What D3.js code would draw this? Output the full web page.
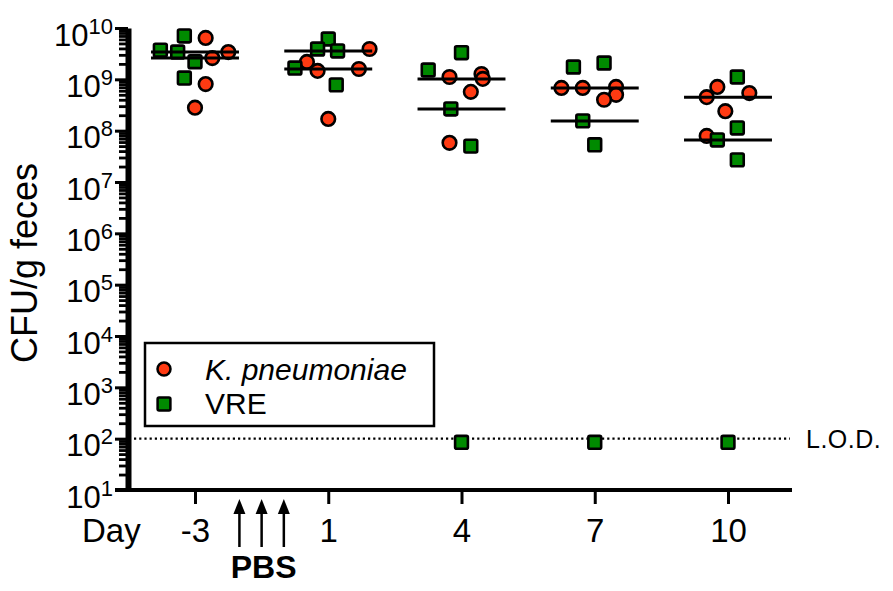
<!DOCTYPE html>
<html>

<head>
  <title>CFU per gram feces</title>
  <script src="https://cdn.jsdelivr.net/npm/d3@7"></script>
  <style>
    body {
      margin: 0;
      background-color: #ffffff;
      font-family: "Liberation Sans", Arial, Helvetica, sans-serif;
    }

    text {
      fill: #000;
    }
  </style>
</head>

<body>
  <div id="chart"></div>
  <script>
    // days on the x axis (categorical, evenly spaced)
    const days = ["-3", "1", "4", "7", "10"];

    // K. pneumoniae CFU/g, one array per day
    const kpValues = [
      [6.4e9, 3.4e9, 2.6e9, 8.1e8, 2.8e8],
      [3.9e9, 2.18e9, 1.59e9, 1.46e9, 1.69e8],
      [1.27e9, 1.11e9, 1.02e9, 5.7e8, 5.8e7],
      [7.1e8, 6.8e8, 6.8e8, 5.0e8, 4.0e8],
      [7.1e8, 5.4e8, 4.5e8, 2.4e8, 7.9e7]
    ];
    // horizontal scatter of each point, as a fraction of the day spacing
    const kpJitter = [
      [0.08, 0.25, 0.13, 0.08, 0],
      [0.31, -0.16, 0.23, -0.08, 0],
      [0.15, -0.09, 0.16, 0.07, -0.09],
      [0.16, -0.25, -0.09, 0.16, 0.07],
      [-0.08, 0.16, -0.16, -0.02, -0.16]
    ];

    // VRE CFU/g, one array per day (85 = below detection)
    const vreValues = [
      [7.0e9, 3.7e9, 3.4e9, 2.2e9, 1.06e9],
      [6.1e9, 3.9e9, 3.57e9, 1.66e9, 7.8e8],
      [3.3e9, 1.52e9, 2.65e8, 5.0e7, 85],
      [2.08e9, 1.74e9, 1.55e8, 5.3e7, 85],
      [1.11e9, 1.13e8, 6.6e7, 2.7e7, 85]
    ];
    const vreJitter = [
      [-0.08, -0.26, -0.13, 0, -0.08],
      [0, -0.08, 0.07, -0.25, 0.06],
      [0, -0.25, -0.08, 0.07, 0],
      [0.07, -0.16, -0.09, 0, 0],
      [0.07, 0.07, -0.08, 0.07, 0]
    ];

    const lod = 100;
    const decades = d3.range(1, 11);
    // PBS doses, as fractions of the way from day -3 to day 1
    const pbsDoses = [1 / 3, 1 / 2, 2 / 3];

    const width = 893;
    const height = 591;
    const red = "#ff3a12";
    const green = "#008a00";

    const svg = d3.select("#chart").append("svg")
      .attr("width", width)
      .attr("height", height);

    const x = d3.scalePoint().domain(days).range([195, 728]);
    const y = d3.scaleLog().domain([10, 1e10]).range([490, 28]);
    const step = x.step();
    const axisX = 128;

    // y axis: minor ticks, then major ticks
    const minor = [];
    decades.slice(0, -1).forEach(e => {
      for (let k = 2; k <= 9; k++) minor.push(k * 10 ** e);
    });

    svg.append("g")
      .attr("transform", `translate(${axisX},0)`)
      .call(d3.axisLeft(y).tickValues(minor).tickSize(9).tickSizeOuter(0).tickFormat(""))
      .call(g => g.select(".domain").remove())
      .call(g => g.selectAll(".tick line").attr("stroke-width", 2.8));

    const yAxis = svg.append("g")
      .attr("transform", `translate(${axisX},0)`)
      .call(d3.axisLeft(y).tickValues(decades.map(e => 10 ** e)).tickSize(13).tickSizeOuter(0).tickFormat(""))
      .call(g => g.select(".domain").attr("stroke-width", 6))
      .call(g => g.selectAll(".tick line").attr("stroke-width", 3));

    const yLabels = yAxis.selectAll(".tick")
      .append("text")
      .attr("x", -15)
      .attr("y", 17)
      .attr("text-anchor", "end")
      .style("font-size", "31px");
    yLabels.append("tspan").text("10");
    yLabels.append("tspan")
      .attr("dy", -12)
      .style("font-size", "22px")
      .text((d, i) => decades[i]);

    // x axis
    svg.append("line")
      .attr("x1", 115).attr("x2", 792)
      .attr("y1", y(10)).attr("y2", y(10))
      .attr("stroke", "#000")
      .attr("stroke-width", 4);

    svg.append("g")
      .attr("transform", `translate(0,${y(10)})`)
      .call(d3.axisBottom(x).tickSize(14).tickSizeOuter(0))
      .call(g => g.select(".domain").remove())
      .call(g => g.selectAll(".tick line").attr("stroke-width", 3))
      .call(g => g.selectAll(".tick text")
        .attr("y", 52)
        .attr("dy", 0)
        .style("font-size", "33px")
        .style("font-family", "'Liberation Sans', Arial, sans-serif"));

    svg.append("text")
      .attr("x", 82)
      .attr("y", 542)
      .style("font-size", "33px")
      .text("Day");

    // y title
    svg.append("text")
      .attr("transform", `translate(37,${(y(10) + y(1e10)) / 2 + 4}) rotate(-90)`)
      .attr("text-anchor", "middle")
      .style("font-size", "36px")
      .text("CFU/g feces");

    // PBS arrows
    const arrowX = f => x("-3") + f * step;
    const arrows = svg.append("g").attr("stroke", "#000").attr("fill", "#000");
    pbsDoses.forEach(f => {
      const ax = arrowX(f);
      arrows.append("line")
        .attr("x1", ax).attr("x2", ax)
        .attr("y1", 547).attr("y2", 508)
        .attr("stroke-width", 2.5);
      arrows.append("path")
        .attr("stroke", "none")
        .attr("d", `M${ax},499 L${ax - 6},514 L${ax + 6},514 Z`);
    });
    svg.append("text")
      .attr("x", arrowX(0.5) + 2)
      .attr("y", 578)
      .attr("text-anchor", "middle")
      .style("font-size", "32px")
      .style("font-weight", "bold")
      .text("PBS");

    // limit of detection
    svg.append("line")
      .attr("x1", 134).attr("x2", 790)
      .attr("y1", y(lod)).attr("y2", y(lod))
      .attr("stroke", "#000")
      .attr("stroke-width", 2.4)
      .attr("stroke-dasharray", "2.2,3");
    svg.append("text")
      .attr("x", 806)
      .attr("y", y(lod) + 9)
      .style("font-size", "25px")
      .style("letter-spacing", "0.5px")
      .text("L.O.D.");

    // points
    const flat = (vals, jit) => vals.flatMap((arr, i) =>
      arr.map((v, j) => ({ day: days[i], value: v, jitter: jit[i][j] })));

    svg.append("g")
      .selectAll("circle")
      .data(flat(kpValues, kpJitter))
      .join("circle")
      .attr("cx", d => x(d.day) + d.jitter * step)
      .attr("cy", d => y(d.value))
      .attr("r", 6.8)
      .attr("fill", red)
      .attr("stroke", "#000")
      .attr("stroke-width", 2.6);

    const sq = 12.8;
    svg.append("g")
      .selectAll("rect")
      .data(flat(vreValues, vreJitter))
      .join("rect")
      .attr("x", d => x(d.day) + d.jitter * step - sq / 2)
      .attr("y", d => y(d.value) - sq / 2)
      .attr("width", sq)
      .attr("height", sq)
      .attr("rx", 1.5)
      .attr("fill", green)
      .attr("stroke", "#000")
      .attr("stroke-width", 2.6);

    // median lines
    const medians = [
      ...kpValues.map((arr, i) => ({ day: days[i], value: d3.median(arr) })),
      ...vreValues.map((arr, i) => ({ day: days[i], value: d3.median(arr) }))
    ];
    svg.append("g")
      .selectAll("line")
      .data(medians)
      .join("line")
      .attr("x1", d => x(d.day) - 0.33 * step)
      .attr("x2", d => x(d.day) + 0.33 * step)
      .attr("y1", d => y(d.value))
      .attr("y2", d => y(d.value))
      .attr("stroke", "#000")
      .attr("stroke-width", 3);

    // legend
    const legend = svg.append("g");
    legend.append("rect")
      .attr("x", 145).attr("y", 343)
      .attr("width", 289).attr("height", 83)
      .attr("fill", "#fff")
      .attr("stroke", "#000")
      .attr("stroke-width", 2.5);
    legend.append("circle")
      .attr("cx", 164).attr("cy", 369)
      .attr("r", 6.5)
      .attr("fill", red)
      .attr("stroke", "#000")
      .attr("stroke-width", 2.5);
    legend.append("rect")
      .attr("x", 164 - sq / 2).attr("y", 404 - sq / 2)
      .attr("width", sq).attr("height", sq)
      .attr("rx", 1.5)
      .attr("fill", green)
      .attr("stroke", "#000")
      .attr("stroke-width", 2.5);
    legend.append("text")
      .attr("x", 205).attr("y", 380)
      .style("font-size", "30px")
      .style("font-style", "italic")
      .text("K. pneumoniae");
    legend.append("text")
      .attr("x", 205).attr("y", 414)
      .style("font-size", "30px")
      .text("VRE");
  </script>
</body>

</html>
